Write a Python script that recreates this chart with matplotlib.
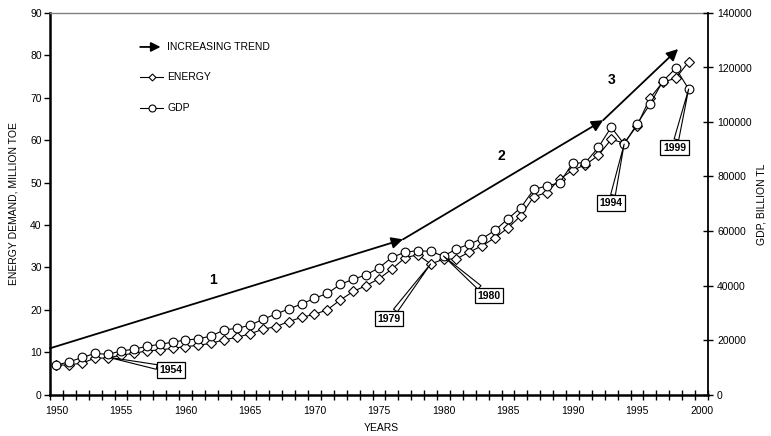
import numpy as np
import matplotlib
matplotlib.use("Agg")
import matplotlib.pyplot as plt
from matplotlib.lines import Line2D

plt.rcParams['font.family'] = ['Liberation Sans', 'DejaVu Sans']

# ---------------- data ----------------
years = list(range(1950, 2000))
energy = [6.9, 7.0, 7.4, 8.6, 8.6, 9.3, 9.7, 10.3, 10.5, 10.9,
          11.3, 11.6, 12.1, 12.9, 13.5, 14.3, 15.4, 16.0, 17.2, 18.2,
          18.9, 20.0, 22.3, 24.3, 25.7, 27.3, 29.6, 32.2, 33.0, 30.8,
          31.9, 32.0, 33.6, 35.1, 37.0, 39.3, 42.2, 46.7, 47.6, 50.8,
          52.9, 54.2, 56.4, 60.2, 59.3, 63.4, 69.9, 73.7, 74.6, 78.5]
gdp = [10800, 12000, 13600, 15100, 14700, 16000, 16600, 17700, 18400, 19200,
       20000, 20400, 21500, 23700, 24300, 25400, 27600, 29500, 31400, 33200,
       35300, 37100, 40400, 42300, 43900, 46500, 50300, 52200, 52800, 52500,
       50800, 53400, 55200, 57200, 60300, 64500, 68600, 75300, 76500, 77700,
       84800, 85100, 90700, 98100, 91900, 99300, 106500, 115000, 119700, 112100]

# increasing-trend arrows (year, energy units)
trend_years = [1949.5, 1976.86, 1992.37, 1998.18]
trend_values = [10.9, 36.6, 64.7, 81.5]
trend_labels = ["1", "2", "3"]
trend_label_pos = [(1962.1, 27.1), (1984.5, 56.3), (1993.0, 74.3)]

x_tick_labels = list(range(1950, 2001, 5))
left_ticks = list(range(0, 91, 10))
right_ticks = list(range(0, 140001, 20000))

# ---------------- figure ----------------
fig = plt.figure(figsize=(7.71, 4.36), dpi=100)
ax = fig.add_axes([50 / 771, (436 - 394.5) / 436, 658 / 771, 381.5 / 436])
ax2 = ax.twinx()

ax.set_xlim(1949.5, 2000.5)
ax.set_ylim(0, 90)
ax2.set_ylim(0, 140000)

# energy series (left axis)
ax.plot(years, energy, color='black', lw=0.8, marker='D', ms=4.8,
        mfc='white', mec='black', mew=0.8, zorder=3)
# gdp series (right axis)
ax2.plot(years, gdp, color='black', lw=0.8, marker='o', ms=6.3,
         mfc='white', mec='black', mew=0.8, zorder=3)

# trend arrows
for i in range(len(trend_years) - 1):
    ax.annotate('', xy=(trend_years[i + 1], trend_values[i + 1]),
                xytext=(trend_years[i], trend_values[i]),
                arrowprops=dict(arrowstyle='-|>', color='black', lw=1.3,
                                mutation_scale=17, shrinkA=0, shrinkB=0),
                zorder=4, annotation_clip=False)
for lab, (lx, ly) in zip(trend_labels, trend_label_pos):
    ax.text(lx, ly, lab, fontsize=10, fontweight='bold', ha='center', va='center')

# callouts
box = dict(boxstyle='square,pad=0.25', fc='white', ec='black', lw=0.9)
wedge = dict(arrowstyle='wedge,tail_width=0.45', fc='white', ec='black', lw=0.8,
             shrinkA=0, shrinkB=0)
ax.annotate('1954', xy=(1954, energy[4] + 0.2), xytext=(1958.9, 5.8),
            fontsize=7.5, fontweight='bold', ha='center', va='center',
            bbox=box, arrowprops=wedge, zorder=5)
ax.annotate('1979', xy=(1979, energy[29]), xytext=(1975.8, 17.9),
            fontsize=7.5, fontweight='bold', ha='center', va='center',
            bbox=box, arrowprops=wedge, zorder=5)
ax2.annotate('1980', xy=(1980, gdp[30]), xytext=(1983.5, 36330),
             fontsize=7.5, fontweight='bold', ha='center', va='center',
             bbox=box, arrowprops=wedge, zorder=5)
ax2.annotate('1994', xy=(1994, gdp[44]), xytext=(1993.0, 70270),
             fontsize=7.5, fontweight='bold', ha='center', va='center',
             bbox=box, arrowprops=wedge, zorder=5)
ax2.annotate('1999', xy=(1999, gdp[49]), xytext=(1997.9, 90640),
             fontsize=7.5, fontweight='bold', ha='center', va='center',
             bbox=box, arrowprops=wedge, zorder=5)

# legend (drawn manually)
ax.annotate('', xy=(0.168, 0.911), xytext=(0.137, 0.911), xycoords='axes fraction',
            textcoords='axes fraction',
            arrowprops=dict(arrowstyle='-|>', color='black', lw=1.3,
                            mutation_scale=14, shrinkA=0, shrinkB=0))
ax.text(0.178, 0.911, 'INCREASING TREND', transform=ax.transAxes, fontsize=7.5,
        va='center', ha='left')
ax.add_line(Line2D([0.137, 0.172], [0.832, 0.832], transform=ax.transAxes,
                   color='black', lw=0.8))
ax.add_line(Line2D([0.1545], [0.832], transform=ax.transAxes, color='black',
                   marker='D', ms=3.5, mfc='white', mec='black', mew=0.8))
ax.text(0.178, 0.832, 'ENERGY', transform=ax.transAxes, fontsize=7.5,
        va='center', ha='left')
ax.add_line(Line2D([0.137, 0.172], [0.751, 0.751], transform=ax.transAxes,
                   color='black', lw=0.8))
ax.add_line(Line2D([0.1545], [0.751], transform=ax.transAxes, color='black',
                   marker='o', ms=5, mfc='white', mec='black', mew=0.8))
ax.text(0.178, 0.751, 'GDP', transform=ax.transAxes, fontsize=7.5,
        va='center', ha='left')

# axes styling
ax.set_xticks(x_tick_labels)
ax.set_xticklabels([str(v) for v in x_tick_labels])
ax.set_xticks(np.arange(1949.5, 2001, 1.0), minor=True)
ax.tick_params(axis='x', which='major', length=0, pad=8, labelsize=7.5)
ax.tick_params(axis='x', which='minor', direction='inout', length=7, width=1.0)
ax.set_yticks(left_ticks)
ax.tick_params(axis='y', which='major', direction='out', length=4, width=1.0,
               pad=2, labelsize=7.5)
ax2.set_yticks(right_ticks)
ax2.tick_params(axis='y', which='major', direction='inout', length=7, width=1.0,
                pad=3, labelsize=7.5)

for s in ['left', 'bottom']:
    ax.spines[s].set_linewidth(1.8)
    ax.spines[s].set_color('black')
ax.spines['top'].set_color('#808080')
ax.spines['top'].set_linewidth(1.0)
ax.spines['right'].set_visible(False)
for s in ['left', 'bottom', 'top']:
    ax2.spines[s].set_visible(False)
ax2.spines['right'].set_linewidth(1.3)
ax2.spines['right'].set_color('black')

fig.text(14 / 771, 1 - 204 / 436, 'ENERGY DEMAND, MILLION TOE', rotation=90,
         fontsize=7.5, ha='center', va='center')
fig.text(762 / 771, 1 - 204 / 436, 'GDP, BILLION TL', rotation=90,
         fontsize=7.5, ha='center', va='center')
fig.text(381 / 771, 1 - 428 / 436, 'YEARS', fontsize=7.5, ha='center', va='center')

fig.savefig('out.png', dpi=100)
